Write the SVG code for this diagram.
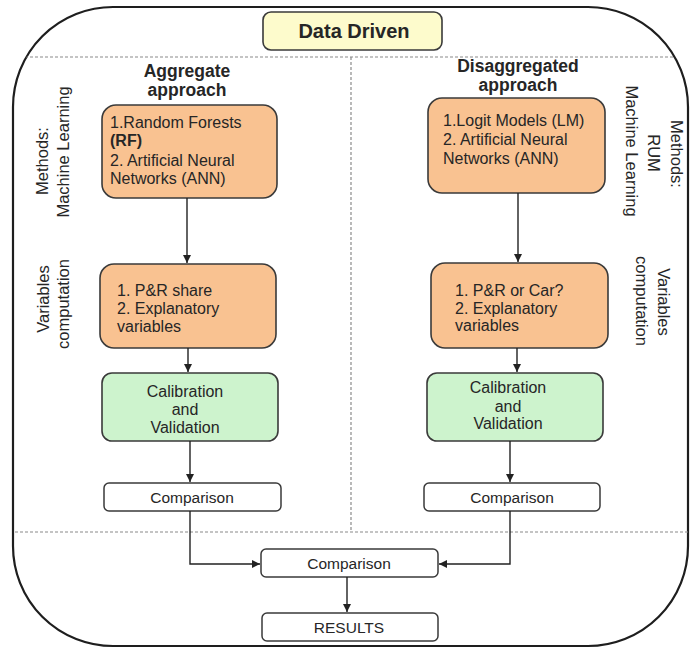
<svg xmlns="http://www.w3.org/2000/svg" width="691" height="648" viewBox="0 0 691 648">
<style>
text{font-family:"Liberation Sans",Arial,sans-serif;fill:#262626}
.t{font-size:16px}
.b{font-weight:bold}
.h{font-size:17.5px;font-weight:bold;text-anchor:middle}
.side{font-size:16.5px;text-anchor:middle}
.c{text-anchor:middle}
.orange{fill:#f9c291;stroke:#3a3a3a;stroke-width:1.6}
.green{fill:#cdf3cd;stroke:#3a3a3a;stroke-width:1.6}
.white{fill:#ffffff;stroke:#3a3a3a;stroke-width:1.5}
.dash{stroke:#8a8a8a;stroke-width:1.2;stroke-dasharray:3 2;fill:none}
.con{stroke:#222;stroke-width:1.4;fill:none}
</style>
<defs>
<marker id="arr" viewBox="0 0 10 10" refX="10" refY="5" markerWidth="8" markerHeight="8" markerUnits="userSpaceOnUse" orient="auto">
<path d="M0,0 L10,5 L0,10 z" fill="#222"/>
</marker>
<clipPath id="frameclip"><rect x="13" y="7" width="675" height="639" rx="100" ry="100"/></clipPath>
</defs>
<rect width="691" height="648" fill="#ffffff"/>
<g id="frame">
<rect x="13" y="7" width="675" height="639" rx="100" ry="100" fill="none" stroke="#1e1e1e" stroke-width="2.2"/>
<g clip-path="url(#frameclip)">
<line class="dash" x1="0" y1="57" x2="691" y2="57"/>
<line class="dash" x1="0" y1="532" x2="691" y2="532"/>
</g>
<line class="dash" x1="351" y1="57" x2="351" y2="532"/>
</g>
<g id="title">
<rect x="263" y="12" width="179" height="38" rx="8" fill="#fdfbcc" stroke="#3a3a3a" stroke-width="1.6"/>
<text x="354" y="38" class="c b" font-size="20">Data Driven</text>
</g>
<g id="labels">
<text class="h" x="187" y="77">Aggregate</text>
<text class="h" x="187" y="96">approach</text>
<text class="h" x="518" y="72">Disaggregated</text>
<text class="h" x="518" y="91">approach</text>
<text class="side" transform="translate(48,161) rotate(-90)">Methods:</text>
<text class="side" transform="translate(69,152) rotate(-90)">Machine Learning</text>
<text class="side" transform="translate(49,299) rotate(-90)">Variables</text>
<text class="side" transform="translate(69,304) rotate(-90)">computation</text>
<text class="side" transform="translate(671,154) rotate(90)">Methods:</text>
<text class="side" transform="translate(648,153) rotate(90)">RUM</text>
<text class="side" transform="translate(626,151) rotate(90)">Machine Learning</text>
<text class="side" transform="translate(658,302) rotate(90)">Variables</text>
<text class="side" transform="translate(636,301) rotate(90)">computation</text>
</g>
<g id="methods-aggregate">
<rect class="orange" x="102" y="105" width="175" height="93" rx="14"/>
<text class="t" x="110" y="128">1.Random Forests</text>
<text class="t b" x="110" y="146">(RF)</text>
<text class="t" x="110" y="166">2. Artificial Neural</text>
<text class="t" x="110" y="184">Networks (ANN)</text>
</g>
<g id="variables-aggregate">
<rect class="orange" x="100" y="264" width="176" height="84" rx="14"/>
<text class="t" x="117" y="296">1. P&amp;R share</text>
<text class="t" x="117" y="314">2. Explanatory</text>
<text class="t" x="117" y="332">variables</text>
</g>
<g id="calibration-aggregate">
<rect class="green" x="102" y="373" width="176" height="68" rx="10"/>
<text class="t c" x="185" y="397">Calibration</text>
<text class="t c" x="185" y="415">and</text>
<text class="t c" x="185" y="433">Validation</text>
</g>
<g id="comparison-aggregate">
<rect class="white" x="104" y="483" width="177" height="28" rx="5"/>
<text class="c" font-size="15.5" x="192" y="503">Comparison</text>
</g>
<g id="methods-disaggregated">
<rect class="orange" x="428" y="98" width="177" height="95" rx="14"/>
<text class="t" x="443" y="126">1.Logit Models (LM)</text>
<text class="t" x="443" y="145">2. Artificial Neural</text>
<text class="t" x="443" y="164">Networks (ANN)</text>
</g>
<g id="variables-disaggregated">
<rect class="orange" x="431" y="263" width="177" height="85" rx="14"/>
<text class="t" x="455" y="296">1. P&amp;R or Car?</text>
<text class="t" x="455" y="314">2. Explanatory</text>
<text class="t" x="455" y="331">variables</text>
</g>
<g id="calibration-disaggregated">
<rect class="green" x="427" y="373" width="176" height="68" rx="10"/>
<text class="t c" x="508" y="393">Calibration</text>
<text class="t c" x="508" y="412">and</text>
<text class="t c" x="508" y="429">Validation</text>
</g>
<g id="comparison-disaggregated">
<rect class="white" x="424" y="483" width="176" height="28" rx="5"/>
<text class="c" font-size="15.5" x="512" y="503">Comparison</text>
</g>
<g id="comparison-final">
<rect class="white" x="261" y="549" width="177" height="28" rx="5"/>
<text class="c" font-size="15.5" x="349" y="569">Comparison</text>
</g>
<g id="results">
<rect class="white" x="262" y="613" width="176" height="28" rx="5"/>
<text class="c" font-size="15.5" x="349" y="633">RESULTS</text>
</g>
<g id="connectors">
<line class="con" x1="187" y1="198" x2="187" y2="263" marker-end="url(#arr)"/>
<line class="con" x1="188" y1="348" x2="188" y2="372" marker-end="url(#arr)"/>
<line class="con" x1="190" y1="441" x2="190" y2="482" marker-end="url(#arr)"/>
<line class="con" x1="518" y1="193" x2="518" y2="262" marker-end="url(#arr)"/>
<line class="con" x1="517" y1="348" x2="517" y2="372" marker-end="url(#arr)"/>
<line class="con" x1="510" y1="441" x2="510" y2="482" marker-end="url(#arr)"/>
<polyline class="con" points="190,511 190,564 260,564" marker-end="url(#arr)"/>
<polyline class="con" points="510,511 510,564 439,564" marker-end="url(#arr)"/>
<line class="con" x1="347" y1="577" x2="347" y2="612" marker-end="url(#arr)"/>
</g>
</svg>
